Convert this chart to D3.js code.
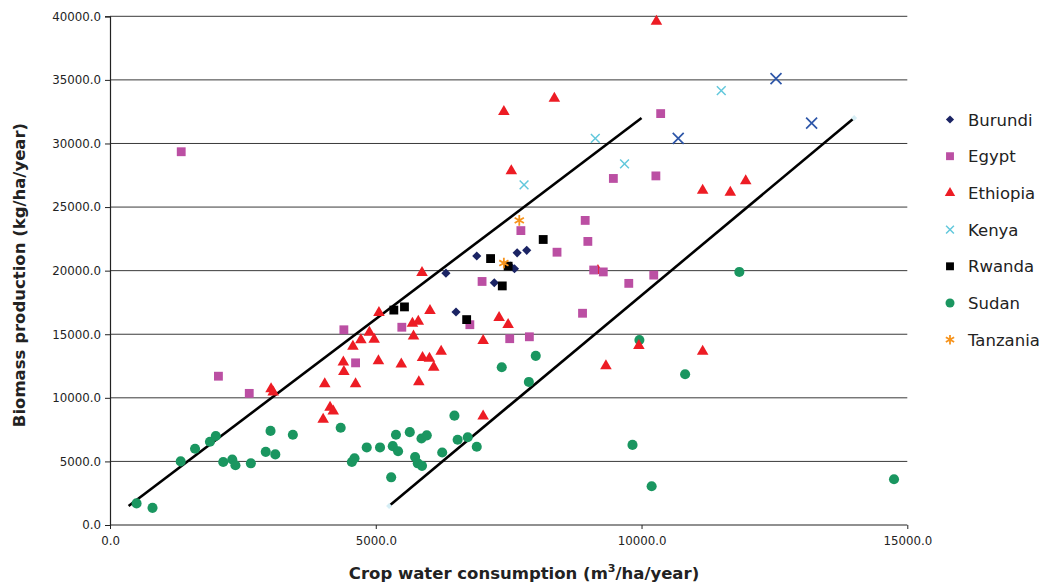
<!DOCTYPE html>
<html>
<head>
<meta charset="utf-8">
<script src="https://cdn.jsdelivr.net/npm/d3@7"></script>
<style>
  html, body { margin: 0; padding: 0; background: #fff; }
  svg { display: block; }
  text { font-family: "DejaVu Sans", Verdana, sans-serif; fill: #222; }
</style>
</head>
<body>
<svg id="chart" width="1049" height="583"></svg>
<script>
// Crop water consumption (m3/ha/year) vs biomass production (kg/ha/year)
const burundi = [[6320,19800],[6900,21150],[7230,19050],[7610,20150],[7660,21400],[7840,21600],[6510,16750],[7530,20350]];
const egypt = [[1340,29350],[2040,11700],[2620,10350],[4400,15350],[4620,12750],[5490,15550],[6770,15750],[7000,19150],
  [7730,23150],[8940,23950],[8990,22300],[8410,21450],[7520,14650],[7890,14800],[8890,16650],[9100,20050],[9280,19900],
  [10360,32350],[9470,27250],[10270,27450],[9760,19000],[10230,19650]];
const ethiopia = [[3030,10700],[3070,10450],[4040,11100],[4010,8300],[4140,9250],[4200,8950],[4390,12800],[4400,12050],
  [4620,11100],[4570,14050],[4720,14550],[4880,15150],[4970,14600],[5050,12900],[5060,16700],[5480,12650],[5690,15850],
  [5800,16000],[5710,14850],[5870,19850],[5880,13150],[6010,13100],[6020,16850],[5810,11250],[6090,12400],[6230,13650],
  [7020,14500],[7320,16300],[7490,15750],[7020,8550],[9330,12500],[9950,14100],[11150,13650],[10280,39600],[8360,33550],
  [7410,32500],[7550,27850],[9180,20000],[11150,26300],[11670,26150],[11960,27050]];
const kenya = [[9130,30400],[9680,28400],[7790,26750],[11500,34150]];
const kenyaUpland = [[10690,30400],[12530,35100],[13200,31600]];
const rwanda = [[5340,16900],[5540,17150],[6710,16150],[7160,20950],[8150,22450],[7380,18800],[7490,20350]];
const sudan = [[500,1700],[800,1350],[1330,5000],[1600,6000],[1880,6550],[1990,7000],[2130,4950],[2300,5150],[2360,4700],
  [2650,4850],[2930,5750],[3020,7400],[3110,5550],[3440,7100],[4340,7650],[4550,4950],[4600,5250],[4830,6100],[5080,6100],
  [5320,6200],[5380,7100],[5420,5800],[5290,3750],[5640,7300],[5740,5350],[5790,4850],[5870,4650],[5860,6800],[5960,7050],
  [6250,5700],[6480,8600],[6540,6700],[6730,6900],[6900,6150],[7370,12400],[8010,13300],[7880,11250],[9960,14550],
  [9830,6300],[10190,3050],[10820,11850],[11840,19900],[14750,3600]];
const tanzania = [[7700,23950],[7410,20600]];

// Envelope lines bounding the points
const upperBound = [[350,1500],[10000,32000]];
const lowerBound = [[5250,1500],[14000,32000]];

const xTicks = [0, 5000, 10000, 15000];
const yTicks = [0, 5000, 10000, 15000, 20000, 25000, 30000, 35000, 40000];

const series = [
  { name: "Burundi",  data: burundi,  color: "#1b2464", shape: "diamond" },
  { name: "Egypt",    data: egypt,    color: "#bb4fa3", shape: "square" },
  { name: "Ethiopia", data: ethiopia, color: "#ed1c24", shape: "triangle" },
  { name: "Kenya",    data: kenya,    color: "#62c8dc", shape: "x" },
  { name: "Rwanda",   data: rwanda,   color: "#000000", shape: "square" },
  { name: "Sudan",    data: sudan,    color: "#1a9660", shape: "circle" },
  { name: "Tanzania", data: tanzania, color: "#f7941d", shape: "asterisk" }
];

const svg = d3.select("#chart");
const x = d3.scaleLinear().domain([0, 15000]).range([110, 907.3]);
const y = d3.scaleLinear().domain([0, 40000]).range([525, 16.3]);

// Horizontal gridlines
svg.append("g").selectAll("line").data(yTicks.slice(1)).join("line")
  .attr("x1", x(0)).attr("x2", x(15000))
  .attr("y1", d => y(d)).attr("y2", d => y(d))
  .attr("stroke", "#3a3a3a").attr("stroke-width", 1);

// Axes
const yAxis = d3.axisLeft(y).tickValues(yTicks).tickFormat(d3.format(".1f")).tickSize(5).tickPadding(4);
const gy = svg.append("g").attr("transform", `translate(${x(0)},0)`).call(yAxis);
const xAxis = d3.axisBottom(x).tickValues(xTicks).tickFormat(d3.format(".1f")).tickSize(4).tickPadding(8);
const gx = svg.append("g").attr("transform", `translate(0,${y(0)})`).call(xAxis);
[gx, gy].forEach(g => {
  g.select(".domain").attr("stroke", "#222").attr("stroke-width", 1.2);
  g.selectAll(".tick line").attr("stroke", "#222");
  g.selectAll(".tick text").style("font-family", "'DejaVu Sans', Verdana, sans-serif")
    .style("font-size", "11.8px").attr("fill", "#222");
});
gx.select(".domain").attr("d", `M${x(0)},0H${x(15000)}`);

// Axis titles
const xt = svg.append("text").attr("x", 524).attr("y", 579).attr("text-anchor", "middle")
  .style("font-size", "16.5px").style("font-weight", "bold").attr("fill", "#111");
xt.append("tspan").text("Crop water consumption (m");
xt.append("tspan").text("3").attr("dy", -7).style("font-size", "11px");
xt.append("tspan").text("/ha/year)").attr("dy", 7);

svg.append("text").attr("transform", "translate(25,275) rotate(-90)").attr("text-anchor", "middle")
  .style("font-size", "16.5px").style("font-weight", "bold").attr("fill", "#111")
  .text("Biomass production (kg/ha/year)");

// Envelope lines
const line = d3.line().x(d => x(d[0])).y(d => y(d[1]));
[upperBound, lowerBound].forEach(b => {
  svg.append("path").attr("d", line(b)).attr("fill", "none").attr("stroke", "#000").attr("stroke-width", 2.6);
});
svg.append("g").selectAll("path").data(lowerBound).join("path")
  .attr("d", d3.symbol(d3.symbolSquare, 18)())
  .attr("transform", d => `translate(${x(d[0])},${y(d[1])}) rotate(45)`)
  .attr("fill", "#d6eef5");

// Marker drawing
function marker(sel, shape, color, scale) {
  const k = scale || 1;
  if (shape === "circle") {
    sel.attr("d", d3.symbol(d3.symbolCircle, 80 * k)()).attr("fill", color);
  } else if (shape === "square") {
    sel.attr("d", d3.symbol(d3.symbolSquare, 78 * k)()).attr("fill", color);
  } else if (shape === "diamond") {
    sel.attr("d", d3.symbol(d3.symbolSquare, 42 * k)()).attr("fill", color);
  } else if (shape === "triangle") {
    sel.attr("d", d3.symbol(d3.symbolTriangle, 58 * k)()).attr("fill", color);
  } else if (shape === "x") {
    sel.attr("d", d3.symbol(d3.symbolX, 52 * k)()).attr("fill", "none").attr("stroke", color).attr("stroke-width", 1.5);
  } else if (shape === "asterisk") {
    sel.attr("d", d3.symbol(d3.symbolAsterisk, 80 * k)()).attr("fill", "none").attr("stroke", color).attr("stroke-width", 1.8);
  }
  return sel;
}

const order = ["Sudan", "Ethiopia", "Egypt", "Kenya", "Burundi", "Rwanda", "Tanzania"];
order.forEach(n => {
  const s = series.find(q => q.name === n);
  const g = svg.append("g");
  const p = g.selectAll("path").data(s.data).join("path")
    .attr("transform", d => `translate(${x(d[0])},${y(d[1])})${s.shape === "diamond" ? " rotate(45)" : ""}`);
  marker(p, s.shape, s.color);
});
marker(svg.append("g").selectAll("path").data(kenyaUpland).join("path")
  .attr("transform", d => `translate(${x(d[0])},${y(d[1])})`), "x", "#2d56a8").attr("stroke-width", 1.7).attr("d", d3.symbol(d3.symbolX, 80)());

// Legend
const lg = svg.append("g");
series.forEach((s, i) => {
  const cy = 119.5 + i * 36.7;
  const m = lg.append("path").attr("transform", `translate(950,${cy})${s.shape === "diamond" ? " rotate(45)" : ""}`);
  marker(m, s.shape, s.color, 0.8);
  lg.append("text").attr("x", 968).attr("y", cy + 6).style("font-size", "16.5px").attr("fill", "#222").text(s.name);
});
</script>
</body>
</html>
